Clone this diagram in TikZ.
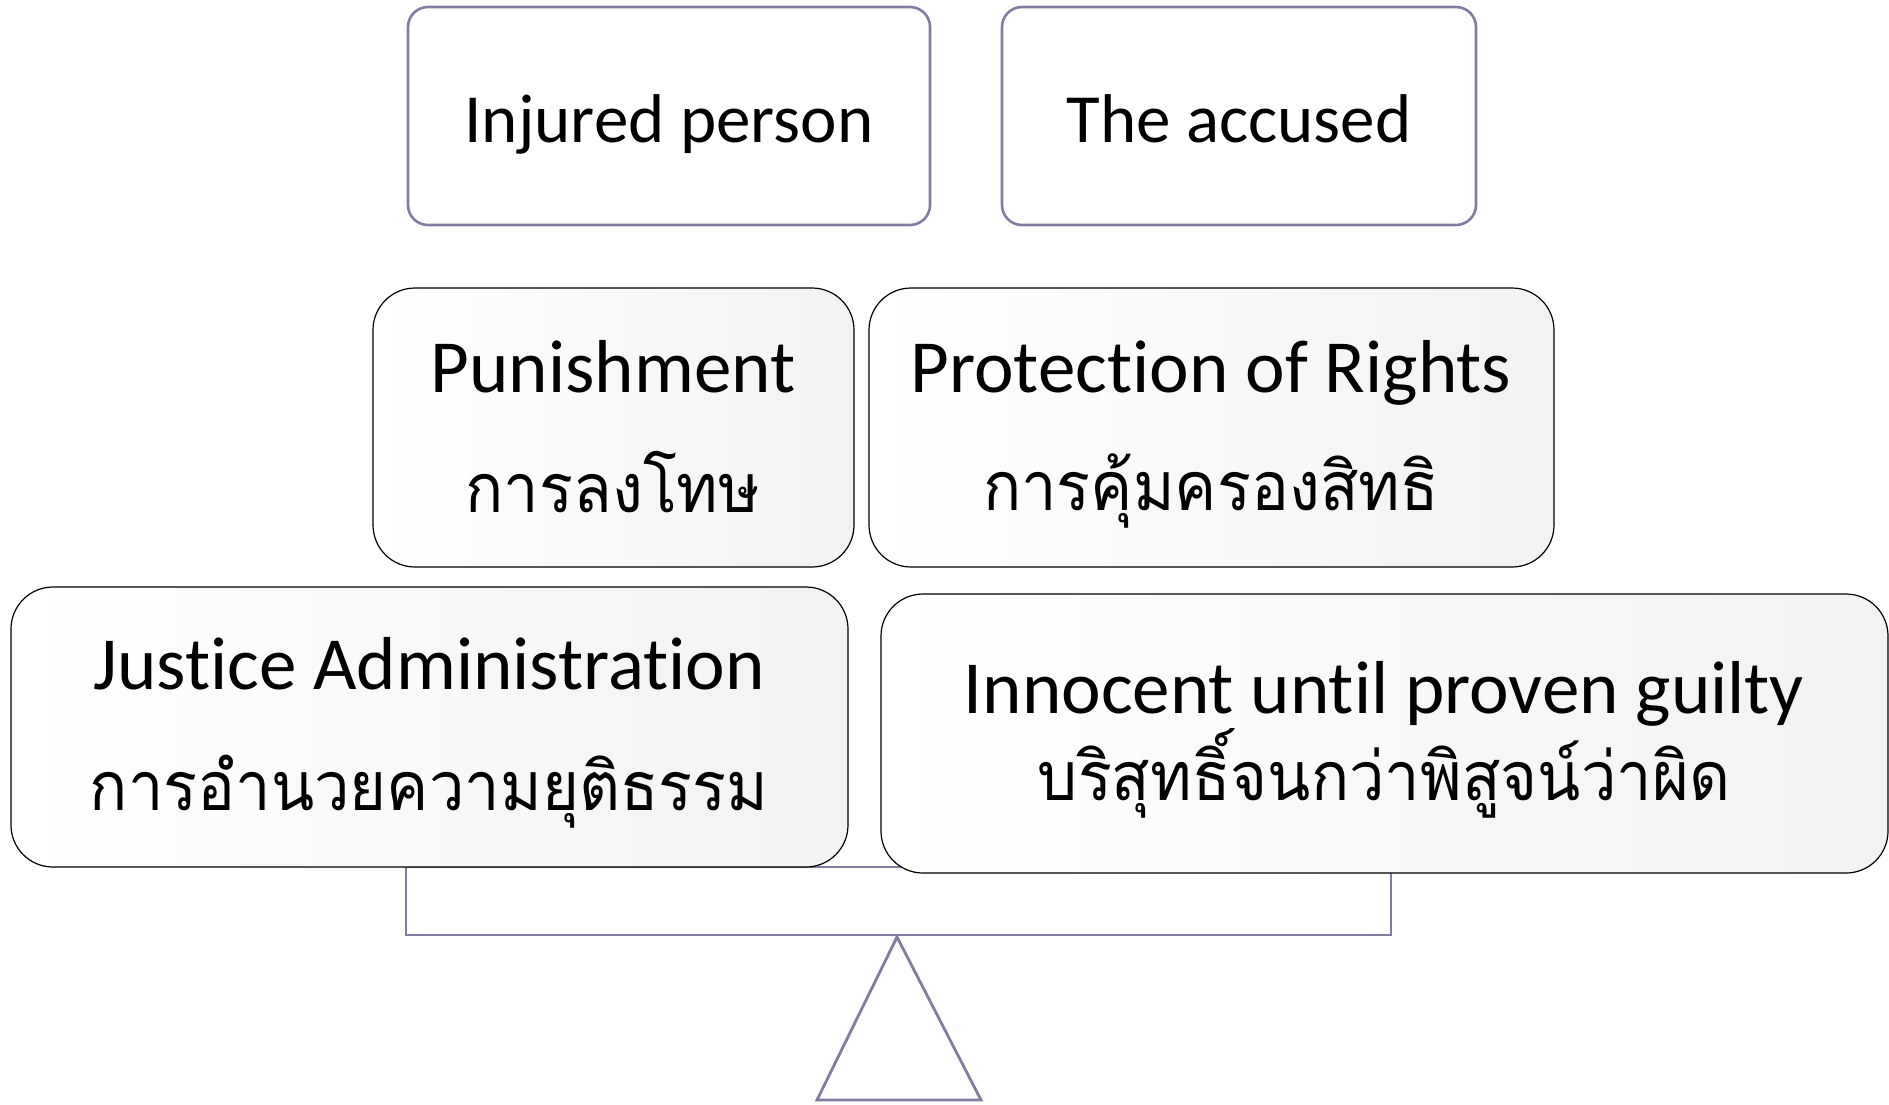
\documentclass[tikz,border=0pt]{standalone}
\usepackage{fontspec}
\setmainfont[Ligatures=NoCommon]{Carlito}
\newfontfamily\thaifont[Script=Thai,FakeStretch=0.93]{Loma}
\definecolor{frame}{RGB}{128,126,160}
\begin{document}
\begin{tikzpicture}[x=1pt,y=-1pt,
  topbox/.style={draw=frame,line width=2.6pt,fill=white,rounded corners=20pt},
  midbox/.style={draw=black,line width=1.2pt,rounded corners=42pt,shading=axis,shading angle=-60,left color=white,right color=black!5},
  balance/.style={draw=frame,line width=2.8pt},
  en/.style={anchor=base,font=\fontsize{75}{80}\selectfont},
  entop/.style={anchor=base,font=\fontsize{69}{74}\selectfont},
  th/.style={anchor=base,font=\thaifont\fontsize{68}{76}\selectfont}]
\useasboundingbox (0,0) rectangle (1889,1104);
% balance
\draw[balance] (406,867) rectangle (1391,935);
\coordinate (apex) at (897,937);
\coordinate (bl) at (817,1100);
\coordinate (br) at (981,1100);
\draw[balance,line join=miter] (apex) -- (bl) -- (br) -- cycle;
% top boxes
\path[topbox] (408,7) rectangle (930,225) node[midway] (inj) {};
\node[entop] (injt) at (669,142) {Injured person};
\path[topbox] (1002,7) rectangle (1476,225) node[midway] (acc) {};
\node[entop] (acct) at (1239,142) {The accused};
% middle boxes
\path[midbox] (373,288) rectangle (854,567) node[midway] (pun) {};
\node[en] (punt) at (613,392) {Punishment};
\node[th] (punth) at (613,512) {การลงโทษ};
\path[midbox] (869,288) rectangle (1554,567) node[midway] (pro) {};
\node[en] (prot) at (1211,392) {Protection of Rights};
\node[th] (proth) at (1211,510) {การคุ้มครองสิทธิ};
% bottom boxes
\path[midbox] (11,587) rectangle (848,867) node[midway] (jus) {};
\node[en] (just) at (429,689) {Justice Administration};
\node[th] (justh) at (429,810) {การอำนวยความยุติธรรม};
\path[midbox] (881,594) rectangle (1888,873) node[midway] (inn) {};
\node[en] (innt) at (1384,713) {Innocent until proven guilty};
\node[th] (innth) at (1384,800) {บริสุทธิ์จนกว่าพิสูจน์ว่าผิด};
\end{tikzpicture}
\end{document}
